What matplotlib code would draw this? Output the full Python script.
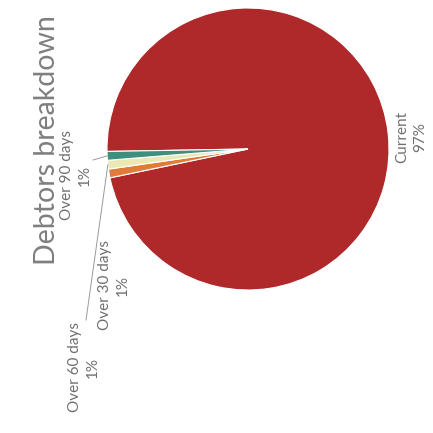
import numpy as np
import matplotlib
matplotlib.use("Agg")
import matplotlib.pyplot as plt

# данные
categories = ["Current", "Over 30 days", "Over 60 days", "Over 90 days"]
shares = [97, 1, 1, 1]
colors = ["#b0292a", "#e07b39", "#ece8b4", "#3f8f7e"]
title = "Debtors breakdown"

plt.rcParams["font.family"] = ["Lato", "DejaVu Sans"]

fig = plt.figure(figsize=(4.33, 4.33), dpi=100)
ax = fig.add_axes([0, 0, 1, 1])

center = (248, 284)
radius = 141
start = 181

wedges, _ = ax.pie(
    shares,
    colors=colors,
    startangle=start,
    counterclock=False,
    center=center,
    radius=radius,
    wedgeprops=dict(edgecolor="white", linewidth=0.8),
    frame=True,
)
ax.set_xlim(0, 433)
ax.set_ylim(0, 433)
ax.set_aspect("equal")
ax.axis("off")

# подписи (весь график повернут на 90 градусов)
label_pos = {
    "Current": (411, 296),
    "Over 30 days": (114, 148),
    "Over 60 days": (84, 66),
    "Over 90 days": (76, 258),
}
txt_color = "#6f6f6f"
for name, share in zip(categories, shares):
    x, y = label_pos[name]
    ax.text(x, y, f"{name}\n{share}%", rotation=90, ha="center", va="center",
            multialignment="center", fontsize=11, color=txt_color,
            linespacing=1.35)

# выноски к маленьким секторам
def wedge_edge(w):
    mid = np.deg2rad((w.theta1 + w.theta2) / 2)
    return center[0] + radius * np.cos(mid), center[1] + radius * np.sin(mid)

leaders = {"Over 60 days": (86, 113), "Over 90 days": (93, 273)}
for w, name in zip(wedges, categories):
    if name in leaders:
        ex, ey = wedge_edge(w)
        lx, ly = leaders[name]
        ax.plot([lx, ex], [ly, ey], color="#9a9a9a", linewidth=0.7)

ax.text(47, 293, title, rotation=90, ha="center", va="center",
        fontsize=20.5, color="#7f7f7f")

fig.savefig("out.png", dpi=100)
